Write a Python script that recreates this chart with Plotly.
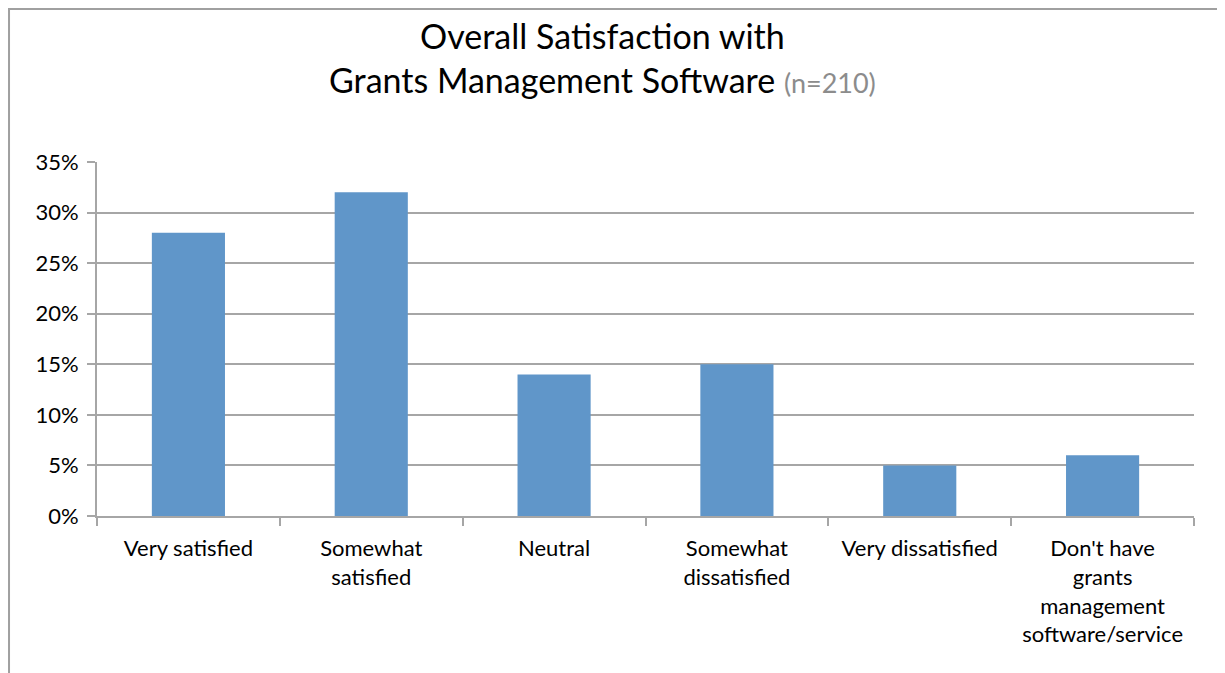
import plotly.graph_objects as go

categories = [
    "Very satisfied",
    "Somewhat<br>satisfied",
    "Neutral",
    "Somewhat<br>dissatisfied",
    "Very dissatisfied",
    "Don't have<br>grants<br>management<br>software/service",
]
share = [0.28, 0.32, 0.14, 0.15, 0.05, 0.06]
y_ticks = [0, 0.05, 0.10, 0.15, 0.20, 0.25, 0.30, 0.35]

font_name = "Lato, Open Sans, sans-serif"
grid_col = "#A6A6A6"

fig = go.Figure()
fig.add_trace(go.Bar(
    x=categories,
    y=share,
    marker=dict(color="#6096C9", line=dict(width=0)),
    width=0.4,
))

# page has an 8px body margin, so margins are shifted by that
fig.update_layout(
    width=1225,
    height=673,
    margin=dict(l=89, r=39, t=154, b=165),
    plot_bgcolor="white",
    paper_bgcolor="white",
    showlegend=False,
    font=dict(family=font_name, size=22, color="black"),
)

# chart title (two lines, grey sample size)
fig.add_annotation(
    text="Overall Satisfaction with<br>Grants Management Software "
         "<span style='font-size:27px;color:#8C8C8C'>(n=210)</span>",
    xref="paper", yref="paper", x=0.461, y=1.294, yanchor="middle",
    showarrow=False, align="center",
    font=dict(family=font_name, size=34, color="black"),
)

# outer chart border
fig.add_shape(type="rect", xref="paper", yref="paper",
              x0=-0.0802, x1=1.06, y0=-0.5, y1=1.432,
              line=dict(color="#A0A0A0", width=2), layer="below")

fig.update_xaxes(
    showline=True, linecolor=grid_col, linewidth=2,
    ticks="outside", tickson="boundaries", ticklen=8, tickcolor=grid_col,
    tickwidth=2, showgrid=False, ticklabelstandoff=12,
    tickfont=dict(family=font_name, size=22, color="black"),
)
fig.update_yaxes(
    range=[0, 0.35], tickvals=y_ticks, tickformat=".0%",
    showgrid=True, gridcolor=grid_col, gridwidth=2,
    showline=True, linecolor=grid_col, linewidth=2,
    ticks="outside", ticklen=8, tickcolor=grid_col, tickwidth=2,
    zeroline=False, ticklabelstandoff=4,
    tickfont=dict(family=font_name, size=22, color="black"),
)

fig.write_html("out.html")
